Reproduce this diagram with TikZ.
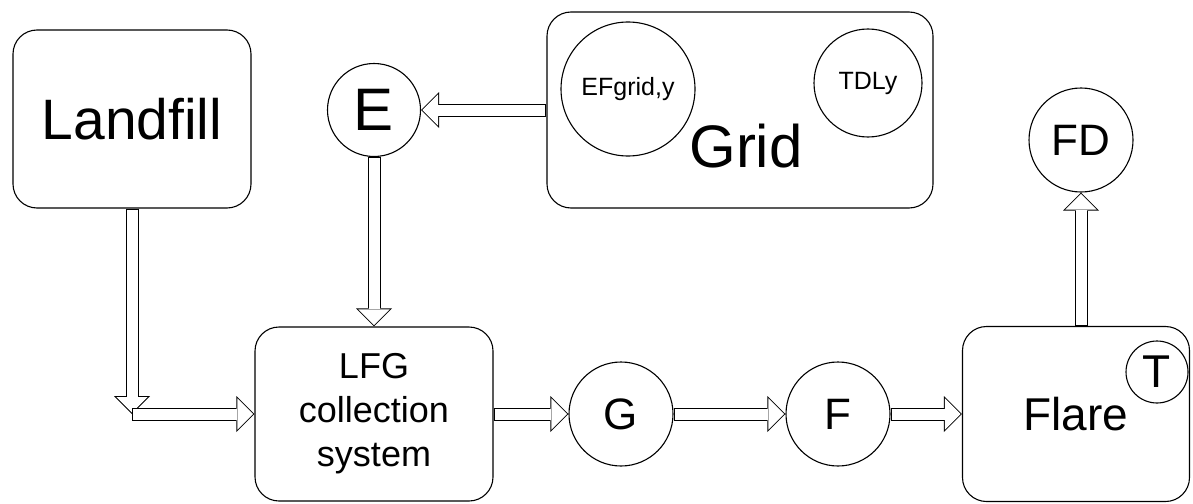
\documentclass[tikz,border=0pt]{standalone}
\usepackage{fontspec}
\setmainfont{Liberation Sans}
\usetikzlibrary{arrows.meta}

\newcommand{\flow}[2]{%
  \draw[flowout] #1 -- #2;
  \draw[flowin] #1 -- #2;}

\begin{document}
\begin{tikzpicture}[x=1pt, y=-1pt, line width=1.1pt,
    box/.style={draw, rounded corners=24pt, inner sep=0pt, align=center},
    disc/.style={draw, circle, inner sep=0pt},
    flowout/.style={line width=13pt, -{Triangle[length=18pt, width=36pt, line width=0pt]}},
    flowin/.style={line width=11pt, white, shorten <=1pt, shorten >=1.4pt,
                   -{Triangle[length=15.6pt, width=31.2pt, line width=0pt]}}]
  \useasboundingbox (0,0) rectangle (1193,503);

  % boxes
  \node[box, minimum width=238pt, minimum height=178pt,
        font=\fontsize{57}{60}\selectfont] (landfill) at (132,119) {Landfill};
  \node[box, minimum width=386pt, minimum height=196pt] (grid) at (740,110) {};
  \node[box, minimum width=238pt, minimum height=174pt,
        font=\fontsize{36}{44}\selectfont] (lfg) at (374,414) {LFG\\collection\\system};
  \node[box, minimum width=227pt, minimum height=175pt,
        font=\fontsize{46}{50}\selectfont] (flare) at (1076,414) {Flare};

  % inside the grid
  \node[disc, minimum size=134pt, font=\fontsize{25}{28}\selectfont] (efgrid) at (628,89) {EFgrid,y};
  \node[disc, minimum size=108pt, font=\fontsize{25}{28}\selectfont] (tdly) at (868,83) {TDLy};
  \node[font=\fontsize{60}{64}\selectfont, anchor=base] (gridlabel) at (746,167) {Grid};

  % measured values
  \node[disc, minimum size=93pt, font=\fontsize{60}{64}\selectfont] (e) at (374,110) {E};
  \node[disc, minimum size=104pt, font=\fontsize{44}{48}\selectfont] (g) at (621,414) {G};
  \node[disc, minimum size=104pt, font=\fontsize{44}{48}\selectfont] (f) at (838,414) {F};
  \node[disc, minimum size=104pt, font=\fontsize{44}{48}\selectfont] (fd) at (1081,140) {FD};
  \node[disc, minimum size=62pt, font=\fontsize{46}{50}\selectfont] (t) at (1157,372) {T};

  % flows
  \coordinate (bend) at (landfill.south |- lfg.west);
  \flow{(landfill.south)}{(bend)}
  \flow{(bend)}{(lfg.west)}
  \flow{(grid.west)}{(e.east)}
  \flow{(e.south)}{(lfg.north)}
  \flow{(lfg.east)}{(g.west)}
  \flow{(g.east)}{(f.west)}
  \flow{(f.east)}{(flare.west)}
  \flow{(flare.north -| fd.south)}{(fd.south)}
\end{tikzpicture}
\end{document}
